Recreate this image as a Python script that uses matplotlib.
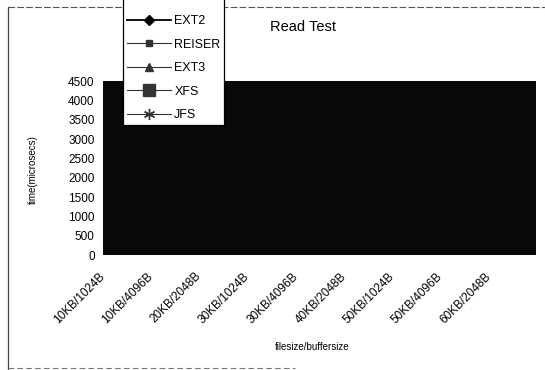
import matplotlib
matplotlib.use("Agg")
import matplotlib.pyplot as plt
import matplotlib.transforms as mtransforms
from matplotlib.lines import Line2D

# categories on the x axis (filesize/buffersize)
categories = ["10KB/1024B", "10KB/4096B", "20KB/2048B", "30KB/1024B",
              "30KB/4096B", "40KB/2048B", "50KB/1024B", "50KB/4096B",
              "60KB/2048B"]
y_ticks = [0, 500, 1000, 1500, 2000, 2500, 3000, 3500, 4000, 4500]

# file systems shown in the legend (lines vanish into the dark plot area)
series_names = ["EXT2", "REISER", "EXT3", "XFS", "JFS"]
series_markers = ["D", "s", "^", "s", (6, 2, 0)]
series_msize = [5, 5, 6, 9, 8]

FONT = ["Liberation Sans Narrow", "Liberation Sans", "DejaVu Sans"]
plt.rcParams["font.family"] = FONT

W, H = 545, 370
fig = plt.figure(figsize=(W / 100, H / 100), dpi=100)
ax = fig.add_axes([103 / W, 1 - 255 / H, (536 - 103) / W, (255 - 81) / H])
ax.set_facecolor("#080808")
for sp in ax.spines.values():
    sp.set_visible(False)

ax.set_ylim(0, 4500)
ax.set_yticks(y_ticks)
ax.set_yticklabels([str(v) for v in y_ticks], fontsize=8.5)
ax.set_xlim(-0.08, 8.9)
ax.set_xticks(range(len(categories)))
ax.set_xticklabels(categories, rotation=45, ha="right", va="top",
                   rotation_mode="anchor", fontsize=8.5)
ax.tick_params(length=0, pad=6)
ax.tick_params(axis="x", pad=11)
shift = mtransforms.ScaledTranslation(-8 / 100, 0, fig.dpi_scale_trans)
for lbl in ax.get_xticklabels():
    lbl.set_transform(lbl.get_transform() + shift)

fig.text(33 / W, 1 - 170 / H, "time(microsecs)", rotation=90,
         ha="center", va="center", fontsize=7)
fig.text(312 / W, 1 - 347 / H, "filesize/buffersize",
         ha="center", va="center", fontsize=7)
fig.text(303 / W, 1 - 27 / H, "Read Test", ha="center", va="center",
         fontsize=10.5)

# outer frame of the scanned chart
fig.add_artist(Line2D([8 / W, 8 / W], [1 - 7 / H, 1 - 369 / H],
                      transform=fig.transFigure, color="#444", lw=0.9))
fig.add_artist(Line2D([8 / W, 1], [1 - 7 / H, 1 - 7 / H],
                      transform=fig.transFigure, color="#555", lw=0.8,
                      ls=(0, (6, 2))))
fig.add_artist(Line2D([8 / W, 295 / W], [1 - 368 / H, 1 - 368 / H],
                      transform=fig.transFigure, color="#777", lw=0.8,
                      ls=(0, (5, 3))))

handles = []
for i, name in enumerate(series_names):
    handles.append(Line2D([], [], color="black" if i == 0 else "#333",
                          lw=1.3 if i == 0 else 0.8,
                          marker=series_markers[i],
                          markersize=series_msize[i], label=name))
leg = fig.legend(handles=handles, loc="lower left",
                 bbox_to_anchor=(123 / W, 1 - 125 / H), fontsize=9,
                 title=" ", title_fontsize=8,
                 handlelength=3.5, handletextpad=0.3, labelspacing=0.92,
                 borderpad=0.3, borderaxespad=0, fancybox=False,
                 framealpha=1, edgecolor="black")
leg.get_frame().set_linewidth(0.9)

fig.savefig("out.png", dpi=100)
